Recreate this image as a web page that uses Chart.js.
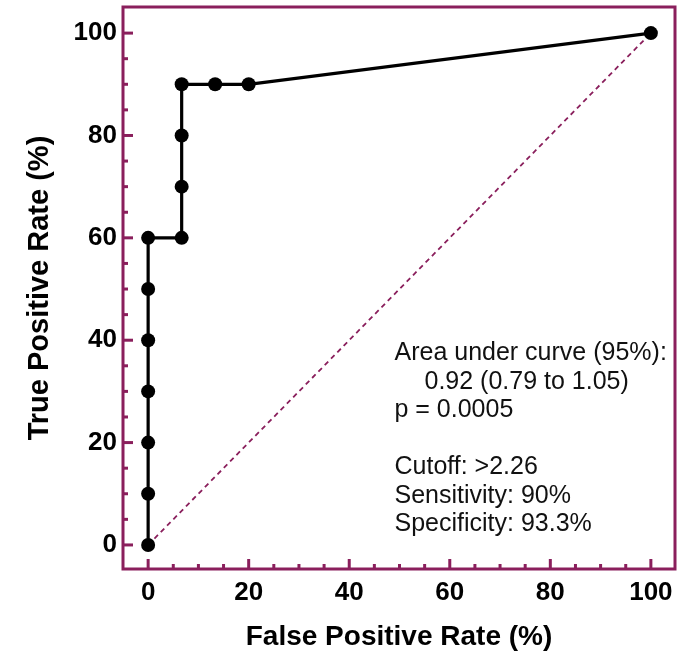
<!DOCTYPE html>
<html><head><meta charset="utf-8">
<script src="https://cdn.jsdelivr.net/npm/chart.js@4/dist/chart.umd.min.js"></script>
<style>html,body{margin:0;padding:0;background:#fff}#wrap{width:682px;height:656px}</style>
</head><body><div id="wrap"><canvas id="c" width="682" height="656"></canvas></div>
<script>
// ---- data ----
const fprValues = [0, 0, 0, 0, 0, 0, 0, 6.67, 6.67, 6.67, 6.67, 13.33, 20, 100];
const tprValues = [0, 10, 20, 30, 40, 50, 60, 60, 70, 80, 90, 90, 90, 100];
const diagonalX = [0, 100];
const diagonalY = [0, 100];
const majorTicks = [0, 20, 40, 60, 80, 100];
const minorTicks = [0, 5, 10, 15, 20, 25, 30, 35, 40, 45, 50, 55, 60, 65, 70, 75, 80, 85, 90, 95, 100];
const xTitle = 'False Positive Rate (%)';
const yTitle = 'True Positive Rate (%)';
const statsLines = ['Area under curve (95%):', '0.92 (0.79 to 1.05)', 'p = 0.0005', '', 'Cutoff: >2.26', 'Sensitivity: 90%', 'Specificity: 93.3%'];

const MAROON = '#8a1f5c';
const FONT = '"Liberation Sans", Arial, Helvetica, sans-serif';

const framePlugin = {
  id: 'frame',
  beforeDatasetsDraw(chart) {
    const {ctx, chartArea: a, scales: {x, y}} = chart;
    ctx.save();
    ctx.strokeStyle = MAROON;
    ctx.lineWidth = 3;
    ctx.strokeRect(a.left, a.top, a.right - a.left, a.bottom - a.top);
    minorTicks.forEach(v => {
      const len = majorTicks.includes(v) ? 10 : 5;
      const px = x.getPixelForValue(v);
      ctx.beginPath(); ctx.moveTo(px, a.bottom); ctx.lineTo(px, a.bottom - len); ctx.stroke();
      const py = y.getPixelForValue(v);
      ctx.beginPath(); ctx.moveTo(a.left, py); ctx.lineTo(a.left + len, py); ctx.stroke();
    });
    ctx.restore();
  },
  afterDatasetsDraw(chart) {
    const {ctx, scales: {x, y}} = chart;
    ctx.save();
    ctx.fillStyle = '#111';
    ctx.font = '25px ' + FONT;
    ctx.textBaseline = 'alphabetic';
    ctx.textAlign = 'left';
    const x0 = x.getPixelForValue(49);
    const y0 = y.getPixelForValue(36.1);
    statsLines.forEach((t, i) => {
      const indent = i === 1 ? 30 : 0;
      ctx.fillText(t, x0 + indent, y0 + i * 28.5);
    });
    ctx.restore();
  }
};

const scaleCommon = {
  type: 'linear',
  grid: {display: false, drawTicks: false},
  border: {display: false},
  afterBuildTicks: s => { s.ticks = majorTicks.map(v => ({value: v})); },
  ticks: {color: '#000', font: {family: FONT, size: 26, weight: 'bold'}, callback: v => String(v)}
};

new Chart(document.getElementById('c'), {
  type: 'scatter',
  data: {
    datasets: [
      {
        data: fprValues.map((v, i) => ({x: v, y: tprValues[i]})),
        showLine: true,
        borderColor: '#000', borderWidth: 3.2,
        pointRadius: 7, pointBackgroundColor: '#000', pointBorderWidth: 0,
        order: 1
      },
      {
        data: diagonalX.map((v, i) => ({x: v, y: diagonalY[i]})),
        showLine: true,
        borderColor: MAROON, borderWidth: 1.8, borderDash: [5, 4],
        pointRadius: 0,
        order: 2
      }
    ]
  },
  options: {
    responsive: false,
    animation: false,
    devicePixelRatio: 1,
    layout: {padding: {top: 7, right: 6, left: 0, bottom: 0}},
    plugins: {legend: {display: false}, tooltip: {enabled: false}},
    scales: {
      x: Object.assign({}, scaleCommon, {
        min: -5, max: 104.8,
        position: 'bottom',
        afterFit: s => { s.height = 87; },
        ticks: Object.assign({}, scaleCommon.ticks, {padding: 8, maxRotation: 0}),
        title: {display: true, text: xTitle, color: '#000', padding: {top: 0, bottom: 2}, font: {family: FONT, size: 28, weight: 'bold'}}
      }),
      y: Object.assign({}, scaleCommon, {
        min: -4.7, max: 105.1,
        position: 'left',
        afterFit: s => { s.width = 123; },
        ticks: Object.assign({}, scaleCommon.ticks, {padding: 6, font: {family: FONT, size: 26, weight: 'bold', lineHeight: 0.05}}),
        title: {display: true, text: yTitle, color: '#000', padding: {top: 23, bottom: 0}, font: {family: FONT, size: 29, weight: 'bold'}}
      })
    }
  },
  plugins: [framePlugin]
});
</script>
</body></html>
